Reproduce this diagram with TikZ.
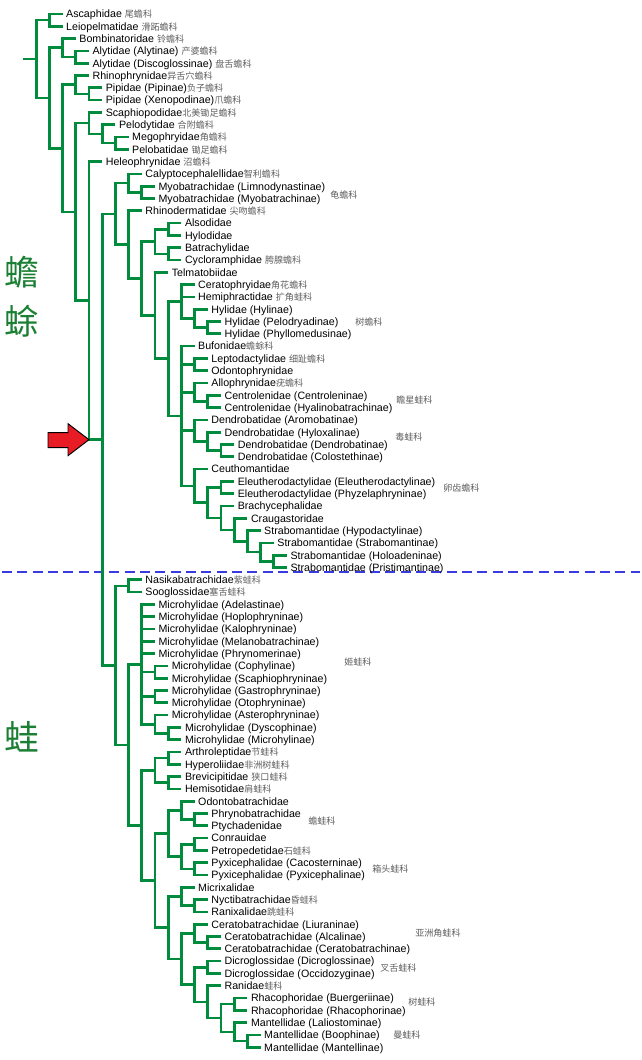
\documentclass[tikz,border=0pt]{standalone}
\usepackage{fontspec}
\setmainfont{Liberation Sans}
\newfontfamily\zhfont{Noto Sans CJK SC}
\usetikzlibrary{calc}
\definecolor{treegreen}{RGB}{0,140,60}
\definecolor{biggreen}{RGB}{28,128,52}
\definecolor{zhgray}{RGB}{95,95,95}
\definecolor{sepblue}{RGB}{58,58,225}
\definecolor{arrowred}{RGB}{232,28,36}
\newcommand{\zh}[1]{{\zhfont\fontsize{6.8pt}{8pt}\selectfont\color{zhgray}#1}}
\tikzstyle{leaf}=[anchor=west,inner xsep=2.5pt,inner ysep=0pt,font=\fontsize{8pt}{9pt}\selectfont,text height=7.5pt,text depth=1.7pt]
\tikzstyle{edge}=[draw,line width=2pt,treegreen]
\tikzstyle{group}=[anchor=west,inner sep=0pt,text=zhgray,font=\zhfont\fontsize{6.8pt}{8pt}\selectfont]
\tikzstyle{bigzh}=[inner sep=0pt,text=biggreen,font=\zhfont\fontsize{26pt}{26pt}\selectfont]
\tikzstyle{sepline}=[sepblue,line width=1.8pt,dash pattern=on 7.5pt off 4pt]
\tikzstyle{redarrow}=[fill=arrowred,draw=black,line width=0.7pt,line join=miter]
\begin{document}
\begin{tikzpicture}[x=0.75pt,y=-0.75pt]
    \path[fill=white] (0,0) rectangle (640,1060);
    % split between the two groups
    \draw[sepline] (2,572) -- (640,572);
    % First the families, one row each: row/level/label
    \foreach \i/\k/\txt in {
        1/3/Ascaphidae \zh{尾蟾科}, 2/3/Leiopelmatidae \zh{滑跖蟾科},
        3/4/Bombinatoridae \zh{铃蟾科}, 4/5/Alytidae (Alytinae) \zh{产婆蟾科},
        5/5/Alytidae (Discoglossinae) \zh{盘舌蟾科}, 6/5/Rhinophrynidae\zh{异舌穴蟾科},
        7/6/Pipidae (Pipinae)\zh{负子蟾科}, 8/6/Pipidae (Xenopodinae)\zh{爪蟾科},
        9/6/Scaphiopodidae\zh{北美锄足蟾科}, 10/7/Pelodytidae \zh{合附蟾科},
        11/8/Megophryidae\zh{角蟾科}, 12/8/Pelobatidae \zh{锄足蟾科},
        13/6/Heleophrynidae \zh{沼蟾科}, 14/9/Calyptocephalellidae\zh{智利蟾科},
        15/10/Myobatrachidae (Limnodynastinae), 16/10/Myobatrachidae (Myobatrachinae),
        17/9/Rhinodermatidae \zh{尖吻蟾科}, 18/12/Alsodidae, 19/12/Hylodidae,
        20/12/Batrachylidae, 21/12/Cycloramphidae \zh{胯腺蟾科}, 22/11/Telmatobiidae,
        23/13/Ceratophryidae\zh{角花蟾科}, 24/13/Hemiphractidae \zh{扩角蛙科},
        25/14/Hylidae (Hylinae), 26/15/Hylidae (Pelodryadinae), 27/15/Hylidae (Phyllomedusinae),
        28/13/Bufonidae\zh{蟾蜍科}, 29/14/Leptodactylidae \zh{细趾蟾科}, 30/14/Odontophrynidae,
        31/14/Allophrynidae\zh{疣蟾科}, 32/15/Centrolenidae (Centroleninae),
        33/15/Centrolenidae (Hyalinobatrachinae), 34/14/Dendrobatidae (Aromobatinae),
        35/15/Dendrobatidae (Hyloxalinae), 36/16/Dendrobatidae (Dendrobatinae),
        37/16/Dendrobatidae (Colostethinae), 38/14/Ceuthomantidae,
        39/16/Eleutherodactylidae (Eleutherodactylinae), 40/16/Eleutherodactylidae (Phyzelaphryninae),
        41/16/Brachycephalidae, 42/17/Craugastoridae, 43/18/Strabomantidae (Hypodactylinae),
        44/19/Strabomantidae (Strabomantinae), 45/20/Strabomantidae (Holoadeninae),
        46/20/Strabomantidae (Pristimantinae), 47/9/Nasikabatrachidae\zh{紫蛙科},
        48/9/Sooglossidae\zh{塞舌蛙科}, 49/10/Microhylidae (Adelastinae),
        50/10/Microhylidae (Hoplophryninae), 51/10/Microhylidae (Kalophryninae),
        52/10/Microhylidae (Melanobatrachinae), 53/10/Microhylidae (Phrynomerinae),
        54/11/Microhylidae (Cophylinae), 55/11/Microhylidae (Scaphiophryninae),
        56/11/Microhylidae (Gastrophryninae), 57/11/Microhylidae (Otophryninae),
        58/11/Microhylidae (Asterophryninae), 59/12/Microhylidae (Dyscophinae),
        60/12/Microhylidae (Microhylinae), 61/12/Arthroleptidae\zh{节蛙科},
        62/12/Hyperoliidae\zh{非洲树蛙科}, 63/12/Brevicipitidae \zh{狭口蛙科},
        64/12/Hemisotidae\zh{肩蛙科}, 65/13/Odontobatrachidae, 66/14/Phrynobatrachidae,
        67/14/Ptychadenidae, 68/14/Conrauidae, 69/14/Petropedetidae\zh{石蛙科},
        70/14/Pyxicephalidae (Cacosterninae), 71/14/Pyxicephalidae (Pyxicephalinae),
        72/13/Micrixalidae, 73/14/Nyctibatrachidae\zh{昏蛙科}, 74/14/Ranixalidae\zh{跳蛙科},
        75/14/Ceratobatrachidae (Liuraninae), 76/15/Ceratobatrachidae (Alcalinae),
        77/15/Ceratobatrachidae (Ceratobatrachinae), 78/15/Dicroglossidae (Dicroglossinae),
        79/15/Dicroglossidae (Occidozyginae), 80/15/Ranidae\zh{蛙科},
        81/17/Rhacophoridae (Buergeriinae), 82/17/Rhacophoridae (Rhacophorinae),
        83/17/Mantellidae (Laliostominae), 84/18/Mantellidae (Boophinae),
        85/18/Mantellidae (Mantellinae)}
        \node[leaf] (L\i) at ({23+13.2*\k},{14+(\i-1)*12.3}) {\txt};
    % Then the branch points, children first: name/level/first/last/children
    \foreach \name/\k/\a/\b/\kids in {
        nLeio/2/L1/L2/{L1,L2}, nAly/4/L4/L5/{L4,L5}, nDisc/3/L3/nAly/{L3,nAly},
        nPip/5/L7/L8/{L7,L8}, nPipo/4/L6/nPip/{L6,nPip}, nMeg/7/L11/L12/{L11,L12},
        nPelod/6/L10/nMeg/{L10,nMeg}, nPelob/5/L9/nPelod/{L9,nPelod},
        nMyo/9/L15/L16/{L15,L16}, nAus/8/L14/nMyo/{L14,nMyo},
        nAH/11/L18/L19/{L18,L19}, nBC/11/L20/L21/{L20,L21}, nAlso/10/nAH/nBC/{nAH,nBC},
        nPel/14/L26/L27/{L26,L27}, nHylid/13/L25/nPel/{L25,nPel},
        nCer/12/L23/nHylid/{L23,L24,nHylid}, nLep/13/L29/L30/{L29,L30},
        nCen/14/L32/L33/{L32,L33}, nAllo/13/L31/nCen/{L31,nCen},
        nDenC/15/L36/L37/{L36,L37}, nDenB/14/L35/nDenC/{L35,nDenC}, nDen/13/L34/nDenB/{L34,nDenB},
        nEle/15/L39/L40/{L39,L40}, nStrC/19/L45/L46/{L45,L46}, nStrB/18/L44/nStrC/{L44,nStrC},
        nStr/17/L43/nStrB/{L43,nStrB}, nBraD/16/L42/nStr/{L42,nStr},
        nBraC/15/L41/nBraD/{L41,nBraD}, nBraB/14/nEle/nBraC/{nEle,nBraC},
        nBra/13/L38/nBraB/{L38,nBraB}, nHylF/12/L28/nBra/{L28,nLep,nAllo,nDen,nBra},
        nHylE/11/nCer/nHylF/{nCer,nHylF}, nHylD/10/L22/nHylE/{L22,nHylE},
        nHylC/9/nAlso/nHylD/{nAlso,nHylD}, nHylB/8/L17/nHylC/{L17,nHylC},
        nHyl/7/nAus/nHylB/{nAus,nHylB},
        nNS/8/L47/L48/{L47,L48}, nCop/10/L54/L55/{L54,L55}, nGas/10/L56/L57/{L56,L57},
        nDys/11/L59/L60/{L59,L60}, nAst/10/L58/nDys/{L58,nDys},
        nMic/9/L49/nAst/{L49,L50,L51,L52,L53,nCop,nGas,nAst},
        nArth/11/L61/L62/{L61,L62}, nBrev/11/L63/L64/{L63,L64}, nAfro/10/nArth/nBrev/{nArth,nBrev},
        nPhry/13/L66/L67/{L66,L67}, nOdo/12/L65/nPhry/{L65,nPhry},
        nCon/13/L68/L69/{L68,L69}, nPyxB/13/L70/L71/{L70,L71}, nPet/12/nCon/nPyxB/{nCon,nPyxB},
        nPyx/11/nOdo/nPet/{nOdo,nPet}, nNyc/13/L73/L74/{L73,L74}, nMicx/12/L72/nNyc/{L72,nNyc},
        nAlc/14/L76/L77/{L76,L77}, nCera/13/L75/nAlc/{L75,nAlc}, nDic/14/L78/L79/{L78,L79},
        nRhac/16/L81/L82/{L81,L82}, nManB/17/L84/L85/{L84,L85}, nMan/16/L83/nManB/{L83,nManB},
        nRM/15/nRhac/nMan/{nRhac,nMan}, nRanE/14/L80/nRM/{L80,nRM},
        nRanD/13/nDic/nRanE/{nDic,nRanE}, nRanC/12/nCera/nRanD/{nCera,nRanD},
        nRanid/11/nMicx/nRanC/{nMicx,nRanC}, nNat/10/nPyx/nRanid/{nPyx,nRanid},
        nRanB/9/nAfro/nNat/{nAfro,nNat}, nRanA/8/nMic/nRanB/{nMic,nRanB},
        nRan/7/nNS/nRanA/{nNS,nRanA}, nD/6/nHyl/nRan/{nHyl,nRan},
        nNeo/5/L13/nD/{L13,nD}, nC/4/nPelob/nNeo/{nPelob,nNeo},
        nB/3/nPipo/nC/{nPipo,nC}, nA/2/nDisc/nB/{nDisc,nB}, n1/1/nLeio/nA/{nLeio,nA}}{
        \path let \p1=(\a), \p2=(\b) in ({(23+13.2*\k)*0.75pt},{0.5*(\y1+\y2)}) coordinate (\name);
        \foreach \c in \kids
            \path[edge] (\name) |- (\c);
    }
    % root stub
    \path (n1) ++(-13.2,0) coordinate (root);
    \path[edge] (root) -- (n1);
    % red arrow at the split
    \draw[redarrow] (nNeo |- nD) -- ++(-21,-16) -- ++(0,9) -- ++(-20,0) -- ++(0,15)
        -- ++(20,0) -- ++(0,8) -- cycle;
    % Chinese names of the families with several rows
    \foreach \pos/\name/\txt in {{(330,195)/gMyo/龟蟾科}, {(355,322)/gHyl/树蟾科},
        {(396,400)/gCen/瞻星蛙科}, {(395,437)/gDen/毒蛙科}, {(443,488)/gEle/卵齿蟾科},
        {(344,662)/gMic/姬蛙科}, {(308,821)/gPhr/蟾蛙科}, {(372,869)/gPyx/箱头蛙科},
        {(415,933)/gCer/亚洲角蛙科}, {(380,968)/gDic/叉舌蛙科}, {(408,1002)/gRha/树蛙科},
        {(393,1035)/gMan/曼蛙科}}
        \node[group] (\name) at \pos {\txt};
    % the two big group names
    \node[bigzh] (toadA) at (21.5,272) {蟾};
    \node[bigzh] (toadB) at (21.5,321) {蜍};
    \node[bigzh] (frog) at (22,737) {蛙};
\end{tikzpicture}
\end{document}
